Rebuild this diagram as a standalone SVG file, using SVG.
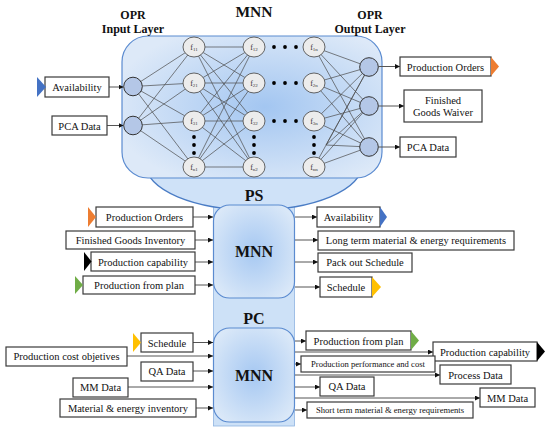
<svg xmlns="http://www.w3.org/2000/svg" width="550" height="428" viewBox="0 0 550 428" font-family="'Liberation Serif', serif">
<defs>
<radialGradient id="gBig" cx="0.55" cy="0.5" r="0.6">
<stop offset="0" stop-color="#a3c6f1"/>
<stop offset="1" stop-color="#dde9f8"/>
</radialGradient>
<radialGradient id="gSmall" cx="0.5" cy="0.5" r="0.6">
<stop offset="0" stop-color="#a6c8f2"/>
<stop offset="1" stop-color="#dae8f8"/>
</radialGradient>
<marker id="ah" markerWidth="5" markerHeight="5" refX="5" refY="2.5" orient="auto" markerUnits="userSpaceOnUse">
<path d="M0,0 L5,2.5 L0,5 z" fill="#111"/>
</marker>
<style>
.box{fill:#fff;stroke:#3a3a3a;stroke-width:1.2}
.t{font-family:"Liberation Serif",serif;font-size:10.5px;fill:#111;text-anchor:middle}
.ts{font-family:"Liberation Serif",serif;font-size:8.6px;fill:#111;text-anchor:middle}
.b{font-family:"Liberation Serif",serif;font-weight:bold;fill:#111;text-anchor:middle}
.con{stroke:#555;stroke-width:1;fill:none;marker-end:url(#ah)}
.net{stroke:#4a4a4a;stroke-width:0.7}
.io{fill:#b4c7e7;stroke:#333;stroke-width:1}
.hn{fill:#ececec;stroke:#555;stroke-width:0.9}
.fl{font-family:"Liberation Serif",serif;font-size:8px;fill:#333;text-anchor:middle}
.sub{font-size:5px}
.mnn{stroke:#5b8bd0;stroke-width:1.2}
</style>
</defs>

<g id="column">
<rect x="213.5" y="200" width="81" height="226" fill="#cde1f7" stroke="#8fb3e0" stroke-width="0.8"/>
</g>
<g id="bowl">
<ellipse cx="254" cy="165" rx="108" ry="45" fill="#cfe2f8" stroke="#4a7cc5" stroke-width="1.3"/>
</g>
<g id="mnn-top">
<rect x="122" y="36" width="260" height="142" rx="26" fill="url(#gBig)" class="mnn"/>
</g>
<g id="ps-mnn">
<rect x="213.5" y="205" width="81" height="93" rx="16" fill="url(#gSmall)" class="mnn"/>
<text class="b" x="254" y="257" font-size="16">MNN</text>
</g>
<g id="pc-mnn">
<rect x="213.5" y="328" width="81" height="94" rx="16" fill="url(#gSmall)" class="mnn"/>
<text class="b" x="254" y="381" font-size="16">MNN</text>
</g>

<g id="titles">
<text class="b" x="254" y="17" font-size="15.5">MNN</text>
<text class="b" x="133" y="19" font-size="12">OPR</text>
<text class="b" x="133" y="33" font-size="12">Input Layer</text>
<text class="b" x="370" y="19" font-size="12">OPR</text>
<text class="b" x="370" y="33" font-size="12">Output Layer</text>
<text class="b" x="254" y="201" font-size="16">PS</text>
<text class="b" x="254" y="324" font-size="16">PC</text>
</g>

<g id="network-links" class="net">
<line x1="133" y1="86.5" x2="194" y2="47"/><line x1="133" y1="86.5" x2="194" y2="83"/><line x1="133" y1="86.5" x2="194" y2="121"/><line x1="133" y1="86.5" x2="194" y2="167"/>
<line x1="133" y1="125.5" x2="194" y2="47"/><line x1="133" y1="125.5" x2="194" y2="83"/><line x1="133" y1="125.5" x2="194" y2="121"/><line x1="133" y1="125.5" x2="194" y2="167"/>
<line x1="194" y1="47" x2="254" y2="47"/><line x1="194" y1="47" x2="254" y2="83"/><line x1="194" y1="47" x2="254" y2="121"/><line x1="194" y1="47" x2="254" y2="167"/>
<line x1="194" y1="83" x2="254" y2="47"/><line x1="194" y1="83" x2="254" y2="83"/><line x1="194" y1="83" x2="254" y2="121"/><line x1="194" y1="83" x2="254" y2="167"/>
<line x1="194" y1="121" x2="254" y2="47"/><line x1="194" y1="121" x2="254" y2="83"/><line x1="194" y1="121" x2="254" y2="121"/><line x1="194" y1="121" x2="254" y2="167"/>
<line x1="194" y1="167" x2="254" y2="47"/><line x1="194" y1="167" x2="254" y2="83"/><line x1="194" y1="167" x2="254" y2="121"/><line x1="194" y1="167" x2="254" y2="167"/>
<line x1="314" y1="47" x2="369" y2="67"/><line x1="314" y1="47" x2="369" y2="106"/><line x1="314" y1="47" x2="369" y2="147"/>
<line x1="314" y1="83" x2="369" y2="67"/><line x1="314" y1="83" x2="369" y2="106"/><line x1="314" y1="83" x2="369" y2="147"/>
<line x1="314" y1="121" x2="369" y2="67"/><line x1="314" y1="121" x2="369" y2="106"/><line x1="314" y1="121" x2="369" y2="147"/>
<line x1="314" y1="167" x2="369" y2="67"/><line x1="314" y1="167" x2="369" y2="106"/><line x1="314" y1="167" x2="369" y2="147"/>
<line x1="326" y1="145" x2="369" y2="67"/><line x1="326" y1="145" x2="369" y2="106"/><line x1="326" y1="145" x2="369" y2="147"/>
</g>

<g id="input-nodes">
<circle class="io" cx="133" cy="86.5" r="9.3"/>
<circle class="io" cx="133" cy="125.5" r="9.3"/>
</g>
<g id="output-nodes">
<circle class="io" cx="369" cy="67" r="9.3"/>
<circle class="io" cx="369" cy="106" r="9.3"/>
<circle class="io" cx="369" cy="147" r="9.3"/>
</g>
<g id="hidden-nodes">
<ellipse class="hn" cx="194" cy="47" rx="11" ry="10"/><text class="fl" x="194" y="49.5">f<tspan class="sub" dy="1">11</tspan></text>
<ellipse class="hn" cx="194" cy="83" rx="11" ry="10"/><text class="fl" x="194" y="85.5">f<tspan class="sub" dy="1">21</tspan></text>
<ellipse class="hn" cx="194" cy="121" rx="11" ry="10"/><text class="fl" x="194" y="123.5">f<tspan class="sub" dy="1">31</tspan></text>
<ellipse class="hn" cx="194" cy="167" rx="11" ry="10"/><text class="fl" x="194" y="169.5">f<tspan class="sub" dy="1">n1</tspan></text>
<ellipse class="hn" cx="254" cy="47" rx="11" ry="10"/><text class="fl" x="254" y="49.5">f<tspan class="sub" dy="1">12</tspan></text>
<ellipse class="hn" cx="254" cy="83" rx="11" ry="10"/><text class="fl" x="254" y="85.5">f<tspan class="sub" dy="1">22</tspan></text>
<ellipse class="hn" cx="254" cy="121" rx="11" ry="10"/><text class="fl" x="254" y="123.5">f<tspan class="sub" dy="1">32</tspan></text>
<ellipse class="hn" cx="254" cy="167" rx="11" ry="10"/><text class="fl" x="254" y="169.5">f<tspan class="sub" dy="1">n2</tspan></text>
<ellipse class="hn" cx="314" cy="47" rx="11" ry="10"/><text class="fl" x="314" y="49.5">f<tspan class="sub" dy="1">1n</tspan></text>
<ellipse class="hn" cx="314" cy="83" rx="11" ry="10"/><text class="fl" x="314" y="85.5">f<tspan class="sub" dy="1">2n</tspan></text>
<ellipse class="hn" cx="314" cy="121" rx="11" ry="10"/><text class="fl" x="314" y="123.5">f<tspan class="sub" dy="1">3n</tspan></text>
<ellipse class="hn" cx="314" cy="167" rx="11" ry="10"/><text class="fl" x="314" y="169.5">f<tspan class="sub" dy="1">nn</tspan></text>
</g>
<g id="dots" fill="#000">
<circle cx="274" cy="47" r="1.9"/><circle cx="285" cy="47" r="1.9"/><circle cx="296" cy="47" r="1.9"/>
<circle cx="274" cy="83" r="1.9"/><circle cx="285" cy="83" r="1.9"/><circle cx="296" cy="83" r="1.9"/>
<circle cx="274" cy="121" r="1.9"/><circle cx="285" cy="121" r="1.9"/><circle cx="296" cy="121" r="1.9"/>
<circle cx="194" cy="137" r="1.9"/><circle cx="194" cy="145" r="1.9"/><circle cx="194" cy="153" r="1.9"/>
<circle cx="254" cy="137" r="1.9"/><circle cx="254" cy="145" r="1.9"/><circle cx="254" cy="153" r="1.9"/>
<circle cx="314" cy="137" r="1.9"/><circle cx="314" cy="145" r="1.9"/><circle cx="314" cy="153" r="1.9"/>
</g>

<g id="connectors">
<line class="con" x1="109" y1="87" x2="123.5" y2="87"/>
<line class="con" x1="107" y1="125.5" x2="123.5" y2="125.5"/>
<line class="con" x1="378.5" y1="66.5" x2="400" y2="66.5"/>
<line class="con" x1="378.5" y1="106" x2="404" y2="106"/>
<line class="con" x1="378.5" y1="147" x2="400" y2="147"/>
<line class="con" x1="193" y1="217" x2="213" y2="217"/>
<line class="con" x1="195" y1="240" x2="213" y2="240"/>
<line class="con" x1="195" y1="262" x2="213" y2="262"/>
<line class="con" x1="195" y1="285" x2="213" y2="285"/>
<line class="con" x1="295" y1="217" x2="317" y2="217"/>
<line class="con" x1="295" y1="240" x2="318" y2="240"/>
<line class="con" x1="295" y1="262" x2="318" y2="262"/>
<line class="con" x1="295" y1="287" x2="320" y2="287"/>
<line class="con" x1="193" y1="342.5" x2="213" y2="342.5"/>
<line class="con" x1="127" y1="356" x2="213" y2="356"/>
<line class="con" x1="193" y1="371" x2="213" y2="371"/>
<line class="con" x1="128" y1="387" x2="213" y2="387"/>
<line class="con" x1="196" y1="408" x2="213" y2="408"/>
<line class="con" x1="295" y1="341" x2="306" y2="341"/>
<line class="con" x1="295" y1="352" x2="433" y2="352"/>
<line class="con" x1="295" y1="364" x2="301" y2="364"/>
<line class="con" x1="295" y1="375" x2="440" y2="375"/>
<line class="con" x1="295" y1="387" x2="320" y2="387"/>
<line class="con" x1="295" y1="398" x2="480" y2="398"/>
<line class="con" x1="295" y1="410" x2="307" y2="410"/>
</g>

<g id="in-availability">
<rect class="box" x="45" y="77" width="64" height="20"/>
<polygon points="37,77 46,87 37,97" fill="#4472c4"/>
<text class="t" x="77" y="91">Availability</text>
</g>
<g id="in-pca">
<rect class="box" x="52" y="116" width="55" height="19"/>
<text class="t" x="79.5" y="129.5">PCA Data</text>
</g>
<g id="out-production-orders">
<rect class="box" x="400" y="57" width="91" height="19"/>
<polygon points="491,57 499,66.5 491,76" fill="#ed7d31"/>
<text class="t" x="445.5" y="70.5">Production Orders</text>
</g>
<g id="out-fg-waiver">
<rect class="box" x="404" y="90" width="78" height="32"/>
<text class="t" x="443" y="103.5">Finished</text>
<text class="t" x="443" y="116">Goods Waiver</text>
</g>
<g id="out-pca">
<rect class="box" x="400" y="137" width="56" height="20"/>
<text class="t" x="428" y="151">PCA Data</text>
</g>

<g id="ps-in-orders">
<rect class="box" x="96" y="207" width="97" height="20"/>
<polygon points="88,207 96,217 88,227" fill="#ed7d31"/>
<text class="t" x="144.5" y="221">Production Orders</text>
</g>
<g id="ps-in-fg-inventory">
<rect class="box" x="66" y="231" width="129" height="18"/>
<text class="t" x="130.5" y="243.8">Finished Goods Inventory</text>
</g>
<g id="ps-in-capability">
<rect class="box" x="91" y="252" width="104" height="19"/>
<polygon points="84,252 91.5,261.5 84,271" fill="#000"/>
<text class="t" x="143" y="265.5">Production capability</text>
</g>
<g id="ps-in-plan">
<rect class="box" x="83" y="276" width="112" height="18"/>
<polygon points="75,276 83,285 75,294" fill="#70ad47"/>
<text class="t" x="139" y="288.8">Production from plan</text>
</g>
<g id="ps-out-availability">
<rect class="box" x="317" y="207" width="63" height="20"/>
<polygon points="380,207 387,217 380,227" fill="#4472c4"/>
<text class="t" x="348.5" y="221">Availability</text>
</g>
<g id="ps-out-long-term">
<rect class="box" x="318" y="231" width="196" height="19"/>
<text class="t" x="416" y="244.3">Long term material &amp; energy requirements</text>
</g>
<g id="ps-out-pack-out">
<rect class="box" x="318" y="253" width="94" height="19"/>
<text class="t" x="365" y="266.3">Pack out Schedule</text>
</g>
<g id="ps-out-schedule">
<rect class="box" x="320" y="277" width="52" height="20"/>
<polygon points="372,277 381,287 372,297" fill="#ffc000"/>
<text class="t" x="346" y="291">Schedule</text>
</g>

<g id="pc-in-schedule">
<rect class="box" x="141" y="333" width="52" height="19"/>
<polygon points="133,333 141,342.5 133,352" fill="#ffc000"/>
<text class="t" x="167" y="346.5">Schedule</text>
</g>
<g id="pc-in-cost">
<rect class="box" x="6" y="347" width="121" height="19"/>
<text class="t" x="66.5" y="360.3">Production cost objetives</text>
</g>
<g id="pc-in-qa">
<rect class="box" x="141" y="362" width="52" height="19"/>
<text class="t" x="167" y="375.3">QA Data</text>
</g>
<g id="pc-in-mm">
<rect class="box" x="73" y="378" width="55" height="19"/>
<text class="t" x="100.5" y="391.3">MM Data</text>
</g>
<g id="pc-in-inventory">
<rect class="box" x="60" y="399" width="136" height="18"/>
<text class="t" x="128" y="411.8">Material &amp; energy inventory</text>
</g>
<g id="pc-out-plan">
<rect class="box" x="306" y="331" width="105" height="19"/>
<polygon points="411,331 419,340.5 411,350" fill="#70ad47"/>
<text class="t" x="358.5" y="344.5">Production from plan</text>
</g>
<g id="pc-out-capability">
<rect class="box" x="433" y="342" width="104" height="19"/>
<polygon points="537,342 545,351.5 537,361" fill="#000"/>
<text class="t" x="485" y="355.5">Production capability</text>
</g>
<g id="pc-out-performance">
<rect class="box" x="301" y="356" width="134" height="16"/>
<text class="ts" x="368" y="367">Production performance and cost</text>
</g>
<g id="pc-out-process">
<rect class="box" x="440" y="365" width="71" height="19"/>
<text class="t" x="475.5" y="378.5">Process Data</text>
</g>
<g id="pc-out-qa">
<rect class="box" x="320" y="377" width="54" height="19"/>
<text class="t" x="347" y="390.3">QA Data</text>
</g>
<g id="pc-out-mm">
<rect class="box" x="480" y="388" width="55" height="19"/>
<text class="t" x="507.5" y="401.5">MM Data</text>
</g>
<g id="pc-out-short-term">
<rect class="box" x="307" y="402" width="166" height="16"/>
<text class="ts" x="390" y="413">Short term material &amp; energy requirements</text>
</g>
</svg>
